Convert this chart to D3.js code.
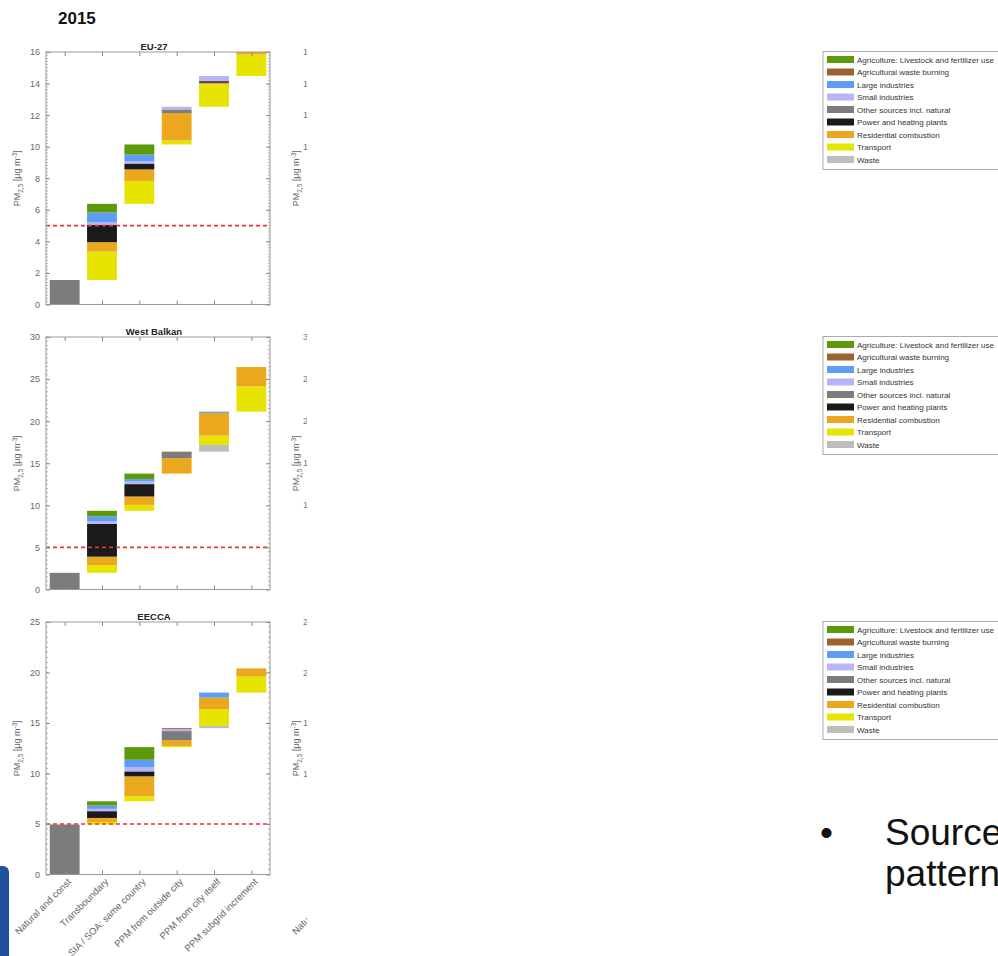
<!DOCTYPE html>
<html><head><meta charset="utf-8">
<script src="https://cdn.jsdelivr.net/npm/d3@7/dist/d3.min.js"></script>
<style>body{margin:0;background:#fff}svg{display:block}</style>
</head><body>
<script>
// ---------- DATA ----------
const sources = ["Agriculture: Livestock and fertilizer use","Agricultural waste burning","Large industries","Small industries","Other sources incl. natural","Power and heating plants","Residential combustion","Transport","Waste"];
const sourceColors = ["#5c9a0c","#9c6330","#5f9cf6","#b7b5f6","#7c7c7c","#1a1a1a","#eba81f","#e6e400","#bdbdbd"];
const categories = ["Natural and const","Transboundary","SIA / SOA: same country","PPM from outside city","PPM from city itself","PPM subgrid increment"];
// values per category in legend order: agri, agwaste, large, small, other, power, residential, transport, waste
const eu27 = [
  [0,0,0,0,1.55,0,0,0,0],
  [0.55,0,0.63,0.15,0,1.1,0.6,1.8,0],
  [0.64,0,0.42,0.15,0,0.37,0.73,1.45,0],
  [0,0,0,0.17,0.23,0,1.74,0.25,0],
  [0,0,0,0.33,0,0.1,0.1,1.42,0],
  [0,0,0,0,0,0,0.35,1.37,0]
];
const westBalkan = [
  [0,0,0,0,1.98,0,0,0,0],
  [0.65,0,0.6,0.3,0,3.9,1.0,0.92,0],
  [0.65,0,0.3,0.3,0,1.47,1.0,0.7,0],
  [0,0,0,0,0.78,0,1.83,0,0],
  [0,0,0.15,0,0,0,2.7,1.1,0.8],
  [0,0,0,0,0,0,2.3,3.0,0]
];
const eecca = [
  [0,0,0,0,4.95,0,0,0,0],
  [0.42,0,0.33,0.23,0,0.67,0.4,0.25,0],
  [1.25,0,0.72,0.43,0,0.49,1.98,0.49,0],
  [0,0.09,0,0.2,0.9,0,0.57,0.12,0],
  [0,0,0.5,0,0,0,1.13,1.67,0.22],
  [0,0,0,0,0,0,0.82,1.58,0]
];
const regionNames = ["EU-27","West Balkan","EECCA"];
const regionData = [eu27, westBalkan, eecca];
const yMax = [16, 30, 25];
const yMajor = [2, 5, 5];
const yMinor = [0.2, 0.5, 0.5];
const whoGuideline = 5;
const yearTitle = "2015";

// ---------- LAYOUT ----------
const W = 998, H = 956;
const font = "'Liberation Sans', Arial, sans-serif";
const svg = d3.select("body").append("svg").attr("width", W).attr("height", H);
const defs = svg.append("defs");
defs.append("clipPath").attr("id","pageclip").append("rect").attr("x",0).attr("y",0).attr("width",307).attr("height",H);

const axX0 = 46, axX1 = 270;
const panelTops = [52, 337, 622];
const panelH = 252.5;
const stackOrder = [8,7,6,5,4,3,2,1,0]; // bottom to top

svg.append("text").attr("x",58).attr("y",24).attr("font-family",font).attr("font-weight","bold")
  .attr("font-size",17).attr("fill","#111").text(yearTitle);

// blue slide decoration
svg.append("rect").attr("x",-12).attr("y",866).attr("width",21).attr("height",110).attr("rx",6).attr("fill","#1f4f9d");

const x = d3.scaleLinear().domain([0.5, 6.5]).range([axX0, axX1]);
const barW = (x(1) - x(0)) * 0.8;

function ylabel(g, cx, cy) {
  const t = g.append("text").attr("transform",`translate(${cx},${cy}) rotate(-90)`)
    .attr("text-anchor","middle").attr("font-family",font).attr("font-size",9).attr("fill","#666");
  t.append("tspan").text("PM");
  t.append("tspan").attr("font-size",6.5).attr("dy",2.5).text("2,5");
  t.append("tspan").attr("dy",-2.5).text(" [\u03bcg m");
  t.append("tspan").attr("font-size",6.5).attr("dy",-3.5).text("-3");
  t.append("tspan").attr("dy",3.5).text("]");
}

regionData.forEach((data, r) => {
  const top = panelTops[r], bottom = top + panelH;
  const y = d3.scaleLinear().domain([0, yMax[r]]).range([bottom, top]);
  const g = svg.append("g");
  const cid = "clip" + r;
  defs.append("clipPath").attr("id",cid).append("rect").attr("x",axX0).attr("y",top).attr("width",axX1-axX0).attr("height",panelH);

  // bars (waterfall)
  const bars = g.append("g").attr("clip-path",`url(#${cid})`);
  let base = 0;
  data.forEach((vals, i) => {
    let cum = base;
    stackOrder.forEach(s => {
      const v = vals[s];
      if (v > 0) {
        bars.append("rect").attr("x", x(i+1) - barW/2).attr("width", barW)
          .attr("y", y(cum + v)).attr("height", y(cum) - y(cum + v)).attr("fill", sourceColors[s]);
        cum += v;
      }
    });
    base = cum;
  });

  // guideline
  g.append("line").attr("x1",axX0).attr("x2",axX1).attr("y1",y(whoGuideline)).attr("y2",y(whoGuideline))
    .attr("stroke","#e8343c").attr("stroke-width",1.6).attr("stroke-dasharray","4,3");

  // minor ticks
  d3.range(0, yMax[r] + 1e-9, yMinor[r]).forEach(v => {
    g.append("line").attr("x1",axX0).attr("x2",axX0+2).attr("y1",y(v)).attr("y2",y(v)).attr("stroke","#999").attr("stroke-width",0.7);
    g.append("line").attr("x1",axX1-2).attr("x2",axX1).attr("y1",y(v)).attr("y2",y(v)).attr("stroke","#999").attr("stroke-width",0.7);
  });
  // major y ticks
  const yt = d3.range(0, yMax[r] + 1e-9, yMajor[r]);
  const la = g.append("g").attr("transform",`translate(${axX0},0)`)
    .call(d3.axisLeft(y).tickValues(yt).tickSize(-4).tickPadding(6).tickFormat(d3.format("d")));
  la.select(".domain").remove();
  la.selectAll(".tick line").attr("stroke","#888");
  la.selectAll("text").attr("font-family",font).attr("font-size",9).attr("fill","#666");
  const ra = g.append("g").attr("transform",`translate(${axX1},0)`)
    .call(d3.axisRight(y).tickValues(yt).tickSize(-4).tickFormat(""));
  ra.select(".domain").remove();
  ra.selectAll(".tick line").attr("stroke","#888");
  // x ticks top and bottom
  const ba = g.append("g").attr("transform",`translate(0,${bottom})`)
    .call(d3.axisBottom(x).tickValues(d3.range(1,7)).tickSize(-4).tickFormat(""));
  ba.select(".domain").remove(); ba.selectAll(".tick line").attr("stroke","#888");
  const ta = g.append("g").attr("transform",`translate(0,${top})`)
    .call(d3.axisTop(x).tickValues(d3.range(1,7)).tickSize(-4).tickFormat(""));
  ta.select(".domain").remove(); ta.selectAll(".tick line").attr("stroke","#888");
  // frame
  g.append("rect").attr("x",axX0).attr("y",top).attr("width",axX1-axX0).attr("height",panelH)
    .attr("fill","none").attr("stroke","#999").attr("stroke-width",1);
  // title
  g.append("text").attr("x",(axX0+axX1)/2 - 4).attr("y",top-2.5).attr("text-anchor","middle")
    .attr("font-family",font).attr("font-weight","bold").attr("font-size",9.5).attr("fill","#222").text(regionNames[r]);
  ylabel(g, 20, (top+bottom)/2);

  // partial second column (cropped in original)
  const g2 = svg.append("g").attr("clip-path","url(#pageclip)");
  ylabel(g2, 299, (top+bottom)/2);
  yt.forEach(v => {
    g2.append("text").attr("x",313).attr("y",y(v)+3).attr("text-anchor","end").attr("font-family",font)
      .attr("font-size",9).attr("fill","#777").text(v);
  });

  // legend
  const lx = 823, ly = top - 0.5, rowH = 12.5;
  const lg = svg.append("g");
  lg.append("rect").attr("x",lx).attr("y",ly).attr("width",200).attr("height",118)
    .attr("fill","#fff").attr("stroke","#aaa").attr("stroke-width",1);
  sources.forEach((s, k) => {
    lg.append("rect").attr("x",lx+4).attr("y",ly+4.5+k*rowH).attr("width",27).attr("height",7).attr("fill",sourceColors[k]);
    lg.append("text").attr("x",lx+34).attr("y",ly+11.2+k*rowH).attr("font-family",font).attr("font-size",8)
      .attr("fill","#333").text(s);
  });

  // x labels only on bottom panel
  if (r === 2) {
    [0, 277].forEach(off => {
      const gl = svg.append("g");
      if (off) gl.attr("clip-path","url(#pageclip)");
      categories.forEach((c, i) => {
        gl.append("text").attr("transform",`translate(${x(i+1)+off+7},${bottom+8}) rotate(-45)`)
          .attr("text-anchor","end").attr("font-family",font).attr("font-size",9.5).attr("fill","#666").text(c);
      });
    });
  }
});

// bullet text
svg.append("text").attr("x",820).attr("y",845).attr("font-family",font).attr("font-size",37).attr("fill","#111").text("\u2022");
svg.append("text").attr("x",885).attr("y",845).attr("font-family",font).attr("font-size",37).attr("fill","#111").text("Source");
svg.append("text").attr("x",885).attr("y",886).attr("font-family",font).attr("font-size",37).attr("fill","#111").text("pattern");
</script>
</body></html>
